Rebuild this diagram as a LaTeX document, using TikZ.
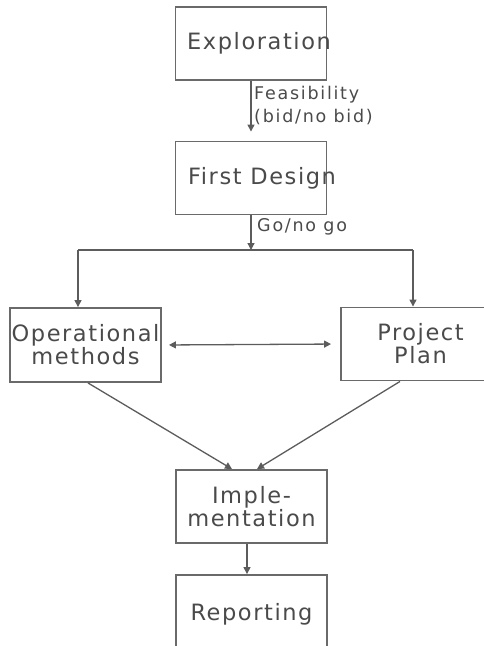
\documentclass[tikz,border=0pt]{standalone}
\usepackage{fontspec}
\setmainfont{DejaVu Sans}
\newfontfamily\boxfont[LetterSpace=7]{DejaVu Sans}
\newfontfamily\notefont[LetterSpace=10]{DejaVu Sans}
\usetikzlibrary{arrows.meta}
\definecolor{inkline}{HTML}{5C5C5C}
\definecolor{inktext}{HTML}{4A4A4A}
\definecolor{boxline}{HTML}{6A6A6A}
\tikzset{
  stage/.style={draw=boxline, line width=1.9pt, minimum width=151pt, minimum height=73pt,
    inner sep=0pt, align=center, text=inktext, font=\boxfont\fontsize{22.5}{23}\selectfont},
  flow/.style={draw=inkline, line width=1.3pt, -{Triangle[length=7pt,width=7pt]}},
  twoway/.style={draw=inkline, line width=1.3pt, {Triangle[length=7pt,width=7pt]}-{Triangle[length=7pt,width=7pt]}},
  plain/.style={draw=inkline, line width=1.3pt},
  note/.style={anchor=west, inner sep=0pt, align=left, text=inktext,
    font=\notefont\fontsize{17.5}{23}\selectfont}
}
\begin{document}
\begin{tikzpicture}[x=1pt, y=-1pt]
  \useasboundingbox (0,0) rectangle (483,646);
  % stages
  \node[stage] (expl)  at (251,43.5)  {\makebox[0pt]{\hspace*{16pt}Exploration}};
  \node[stage] (first) at (251,178)   {\makebox[0pt]{\hspace*{22pt}First Design}};
  \node[stage, minimum height=74pt] (ops) at (85.5,345) {Operational\\methods};
  \node[stage, minimum width=159pt] (plan) at (420.5,344) {Project\\Plan};
  \node[stage] (impl)  at (251.5,506.5) {Imple-\\mentation};
  \node[stage, minimum height=78pt] (rep) at (251.5,614) {\raisebox{4pt}{Reporting}};
  % branching points below First Design
  \coordinate (split) at (251,250);
  \coordinate (splitL) at (78,250);
  \coordinate (splitR) at (413,250);
  % connectors
  \draw[flow, shorten >=9pt] (expl.south) -- (first.north);
  \node[note] (feas) at (254,106) {Feasibility\\(bid/no bid)};
  \draw[flow] (first.south) -- (split);
  \node[note] (gonogo) at (257,227) {Go/no go};
  \draw[plain] (splitL) -- (splitR);
  \draw[flow] (splitL) -- (splitL |- ops.north);
  \draw[flow] (splitR) -- (splitR |- plan.north);
  \draw[twoway, shorten <=7pt, shorten >=9pt] (ops.east) -- (plan.west);
  \draw[flow] ([xshift=2.5pt]ops.south) -- ([xshift=-19.5pt]impl.north);
  \draw[flow] ([xshift=-20.5pt]plan.south) -- ([xshift=5.5pt]impl.north);
  \draw[flow] ([xshift=-4.5pt]impl.south) -- ([xshift=-4.5pt]rep.north);
\end{tikzpicture}
\end{document}
